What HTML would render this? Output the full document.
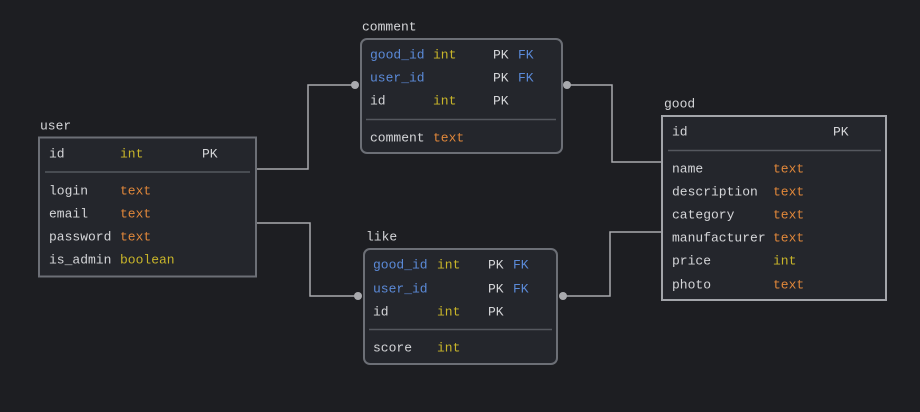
<!DOCTYPE html>
<html><head><meta charset="utf-8"><style>
html,body{margin:0;padding:0;background:#1d1e22;}
svg{display:block}
text{font-family:"Liberation Mono","DejaVu Sans Mono",monospace;font-size:13px;fill:#d4d5d8;dominant-baseline:central}
.b{fill:#5b8ad8}.y{fill:#c8b52a}.o{fill:#e0873a}
</style></head><body>
<svg width="920" height="412" viewBox="0 0 920 412">
<rect width="920" height="412" fill="#1d1e22"/>
<g fill="none" stroke="#a9aaae" stroke-width="1.5">
<polyline points="256,169 308,169 308,85 355,85"/>
<polyline points="256,223 310,223 310,296 358,296"/>
<polyline points="567,85 612,85 612,162 662,162"/>
<polyline points="563,296 610,296 610,232 662,232"/>
</g>
<g fill="#a9aaae"><circle cx="355" cy="85" r="4"/><circle cx="358" cy="296" r="4"/><circle cx="567" cy="85" r="4"/><circle cx="563" cy="296" r="4"/></g>

<!-- user -->
<text x="40" y="126">user</text>
<rect x="39" y="137.5" width="217" height="139" fill="#24262c" stroke="#6c6f76" stroke-width="2"/>
<line x1="45" y1="172" x2="250" y2="172" stroke="#55585f" stroke-width="1.5"/>
<text x="49" y="154">id</text><text x="120" y="154" class="y">int</text><text x="202" y="154">PK</text>
<text x="49" y="191">login</text><text x="120" y="191" class="o">text</text>
<text x="49" y="214">email</text><text x="120" y="214" class="o">text</text>
<text x="49" y="237">password</text><text x="120" y="237" class="o">text</text>
<text x="49" y="260">is_admin</text><text x="120" y="260" class="y">boolean</text>

<!-- comment -->
<text x="362" y="27">comment</text>
<rect x="361" y="39" width="201" height="114" rx="6" fill="#24262c" stroke="#6c6f76" stroke-width="2"/>
<line x1="366" y1="119.5" x2="556" y2="119.5" stroke="#55585f" stroke-width="1.5"/>
<text x="370" y="55" class="b">good_id</text><text x="433" y="55" class="y">int</text><text x="493" y="55">PK</text><text x="518" y="55" class="b">FK</text>
<text x="370" y="78" class="b">user_id</text><text x="493" y="78">PK</text><text x="518" y="78" class="b">FK</text>
<text x="370" y="101">id</text><text x="433" y="101" class="y">int</text><text x="493" y="101">PK</text>
<text x="370" y="138">comment</text><text x="433" y="138" class="o">text</text>

<!-- like -->
<text x="366" y="237">like</text>
<rect x="364" y="249" width="193" height="115" rx="6" fill="#24262c" stroke="#6c6f76" stroke-width="2"/>
<line x1="369" y1="329.5" x2="552" y2="329.5" stroke="#55585f" stroke-width="1.5"/>
<text x="373" y="265" class="b">good_id</text><text x="437" y="265" class="y">int</text><text x="488" y="265">PK</text><text x="513" y="265" class="b">FK</text>
<text x="373" y="289" class="b">user_id</text><text x="488" y="289">PK</text><text x="513" y="289" class="b">FK</text>
<text x="373" y="312">id</text><text x="437" y="312" class="y">int</text><text x="488" y="312">PK</text>
<text x="373" y="348">score</text><text x="437" y="348" class="y">int</text>

<!-- good -->
<text x="664" y="104">good</text>
<rect x="662" y="116" width="224" height="184" fill="#24262c" stroke="#a3a5aa" stroke-width="2"/>
<line x1="668" y1="150.5" x2="881" y2="150.5" stroke="#55585f" stroke-width="1.5"/>
<text x="672" y="132">id</text><text x="833" y="132">PK</text>
<text x="672" y="169">name</text><text x="773" y="169" class="o">text</text>
<text x="672" y="192">description</text><text x="773" y="192" class="o">text</text>
<text x="672" y="215">category</text><text x="773" y="215" class="o">text</text>
<text x="672" y="238">manufacturer</text><text x="773" y="238" class="o">text</text>
<text x="672" y="261">price</text><text x="773" y="261" class="y">int</text>
<text x="672" y="285">photo</text><text x="773" y="285" class="o">text</text>
</svg>
</body></html>
